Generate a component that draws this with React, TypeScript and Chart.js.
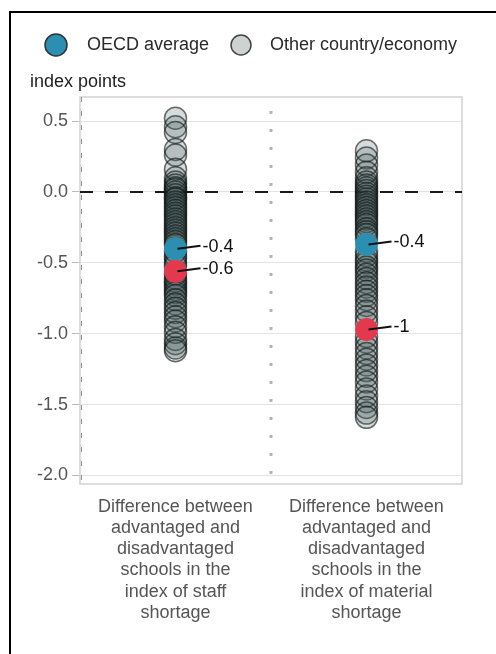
import React, { useEffect, useRef } from "react";
import { Chart, registerables } from "chart.js";

Chart.register(...registerables);

const categories: string[][] = [
  ["Difference between", "advantaged and", "disadvantaged", "schools in the", "index of staff", "shortage"],
  ["Difference between", "advantaged and", "disadvantaged", "schools in the", "index of material", "shortage"],
];

const otherStaff = [
  0.52, 0.46, 0.42, 0.3, 0.26, 0.16, 0.1, 0.07, 0.05, 0.03, 0.02, 0.0, -0.02, -0.04, -0.05, -0.07,
  -0.09, -0.11, -0.13, -0.15, -0.17, -0.19, -0.21, -0.23, -0.25, -0.27, -0.29, -0.31, -0.33, -0.35,
  -0.37, -0.42, -0.45, -0.47, -0.5, -0.52, -0.58, -0.61, -0.63, -0.65, -0.67, -0.69, -0.71, -0.73,
  -0.76, -0.79, -0.82, -0.85, -0.88, -0.91, -0.95, -0.99, -1.04, -1.07, -1.1, -1.12,
];

const otherMaterial = [
  0.29, 0.24, 0.19, 0.14, 0.1, 0.07, 0.05, 0.03, 0.01, -0.01, -0.03, -0.05, -0.07, -0.09, -0.11,
  -0.13, -0.15, -0.17, -0.19, -0.21, -0.23, -0.26, -0.28, -0.3, -0.33, -0.42, -0.45, -0.48, -0.5,
  -0.53, -0.55, -0.58, -0.61, -0.64, -0.67, -0.7, -0.73, -0.76, -0.8, -0.84, -0.88, -0.92, -1.02,
  -1.06, -1.1, -1.14, -1.18, -1.22, -1.26, -1.3, -1.34, -1.39, -1.44, -1.48, -1.52, -1.56, -1.59,
];

const oecdAverage = [-0.4, -0.37];
const highlighted = [-0.56, -0.97];

const yTicks = [-2, -1.5, -1, -0.5, 0, 0.5];
const yMin = -2.06;
const yMax = 0.67;

const legendLabels = ["OECD average", "Other country/economy"];
const yAxisTitle = "index points";

const FONT = "'Liberation Sans', Arial, sans-serif";
const BLUE = "#2a8fb0";
const RED = "#e2394f";
const GREY_FILL = "rgba(60,85,85,0.21)";
const GREY_BORDER = "rgba(15,20,20,0.6)";

const fmt = (v: number) => String(Number(v.toFixed(1)));

const decorPlugin = {
  id: "decor",
  beforeDatasetsDraw(chart: any) {
    const { ctx, chartArea: a, scales } = chart;
    ctx.save();
    ctx.strokeStyle = "#d2d2d2";
    ctx.lineWidth = 1.5;
    ctx.strokeRect(a.left, a.top, a.right - a.left, a.bottom - a.top);
    ctx.strokeStyle = "#8f8f8f";
    ctx.lineWidth = 1;
    ctx.setLineDash([5, 9]);
    ctx.beginPath();
    ctx.moveTo(a.left + 1.5, a.top);
    ctx.lineTo(a.left + 1.5, a.bottom);
    ctx.stroke();
    const xm = scales.x.getPixelForValue(0.5);
    ctx.strokeStyle = "#b4b4b4";
    ctx.lineWidth = 3;
    ctx.setLineDash([3, 15]);
    ctx.beginPath();
    ctx.moveTo(xm, a.top + 14);
    ctx.lineTo(xm, a.bottom);
    ctx.stroke();
    const y0 = scales.y.getPixelForValue(0);
    ctx.strokeStyle = "#1a1a1a";
    ctx.lineWidth = 2;
    ctx.setLineDash([13, 12]);
    ctx.beginPath();
    ctx.moveTo(a.left, y0);
    ctx.lineTo(a.right, y0);
    ctx.stroke();
    ctx.restore();
  },
  afterDatasetsDraw(chart: any) {
    const { ctx } = chart;
    ctx.save();
    chart.data.datasets.forEach((ds: any, i: number) => {
      if (!ds.showValueLabels) return;
      const meta = chart.getDatasetMeta(i);
      meta.data.forEach((pt: any, j: number) => {
        const v = ds.data[j].y;
        const cx = pt.x;
        const cy = pt.y;
        ctx.strokeStyle = "#111";
        ctx.lineWidth = 2;
        ctx.setLineDash([]);
        ctx.beginPath();
        ctx.moveTo(cx + 2, cy);
        ctx.lineTo(cx + 25, cy - 3);
        ctx.stroke();
        ctx.fillStyle = "#111";
        ctx.font = `18px ${FONT}`;
        ctx.textAlign = "left";
        ctx.textBaseline = "middle";
        ctx.fillText(fmt(v), cx + 27, cy - 2);
      });
    });
    ctx.restore();
  },
  afterDraw(chart: any) {
    const { ctx } = chart;
    ctx.save();
    const blue = chart.data.datasets.find((d: any) => d.label === legendLabels[0]);
    ctx.font = `18px ${FONT}`;
    ctx.textBaseline = "middle";
    ctx.textAlign = "left";
    ctx.beginPath();
    ctx.arc(56, 45, 11, 0, Math.PI * 2);
    ctx.fillStyle = blue.backgroundColor;
    ctx.fill();
    ctx.lineWidth = 1.5;
    ctx.strokeStyle = "#333";
    ctx.stroke();
    ctx.fillStyle = "#2a2a2a";
    ctx.fillText(legendLabels[0], 87, 45);
    ctx.beginPath();
    ctx.arc(241, 45, 10, 0, Math.PI * 2);
    ctx.fillStyle = "#cdd3d3";
    ctx.fill();
    ctx.strokeStyle = "#444";
    ctx.lineWidth = 1.5;
    ctx.stroke();
    ctx.fillStyle = "#2a2a2a";
    ctx.fillText(legendLabels[1], 270, 45);
    ctx.fillStyle = "#1e1e1e";
    ctx.fillText(yAxisTitle, 30, 82);
    ctx.restore();
  },
};

export default function App() {
  const ref = useRef<HTMLCanvasElement>(null);

  useEffect(() => {
    if (!ref.current) return;
    const toPts = (vals: number[], x: number) => vals.map((y) => ({ x, y }));
    const chart = new Chart(ref.current, {
      type: "scatter",
      data: {
        datasets: [
          {
            label: "Highlighted country",
            data: highlighted.map((y, i) => ({ x: i, y })),
            backgroundColor: RED,
            borderColor: RED,
            borderWidth: 1,
            pointRadius: 11,
            showValueLabels: true,
          } as any,
          {
            label: legendLabels[0],
            data: oecdAverage.map((y, i) => ({ x: i, y })),
            backgroundColor: BLUE,
            borderColor: BLUE,
            borderWidth: 1,
            pointRadius: 11,
            showValueLabels: true,
          } as any,
          {
            label: legendLabels[1],
            data: [...toPts(otherStaff, 0), ...toPts(otherMaterial, 1)],
            backgroundColor: GREY_FILL,
            borderColor: GREY_BORDER,
            borderWidth: 1.5,
            pointRadius: 11,
          } as any,
        ],
      },
      options: {
        animation: false,
        responsive: false,
        events: [],
        layout: { padding: { top: 97, left: 0, right: 34, bottom: 0 } },
        plugins: {
          legend: { display: false },
          tooltip: { enabled: false },
        },
        scales: {
          x: {
            type: "linear",
            min: -0.5,
            max: 1.5,
            grid: { display: false, drawTicks: false },
            border: { display: false },
            afterBuildTicks: (scale: any) => {
              scale.ticks = categories.map((_, i) => ({ value: i }));
            },
            afterFit: (scale: any) => {
              scale.height = 170;
            },
            ticks: {
              padding: 12,
              maxRotation: 0,
              autoSkip: false,
              color: "#555",
              font: { family: FONT, size: 18, lineHeight: 1.18 },
              callback: (v: any) => categories[Math.round(Number(v))] as any,
            },
          },
          y: {
            min: yMin,
            max: yMax,
            grid: { color: "#e4e4e4", lineWidth: 1, tickLength: 8, tickColor: "#bbb" },
            border: { display: false },
            afterBuildTicks: (scale: any) => {
              scale.ticks = yTicks.map((value) => ({ value }));
            },
            afterFit: (scale: any) => {
              scale.width = 80;
            },
            ticks: {
              padding: 4,
              color: "#555",
              font: { family: FONT, size: 18 },
              callback: (v: any) => Number(v).toFixed(1),
            },
          },
        },
      },
      plugins: [decorPlugin],
    });
    return () => chart.destroy();
  }, []);

  return (
    <div style={{ position: "fixed", left: 0, top: 0, width: 496, height: 654, background: "#fff", overflow: "hidden" }}>
      <div
        style={{
          position: "absolute",
          left: 9,
          top: 11,
          width: 520,
          height: 700,
          borderLeft: "2px solid #000",
          borderTop: "2px solid #000",
        }}
      />
      <canvas ref={ref} width={496} height={654} style={{ position: "absolute", left: 0, top: 0, display: "block" }} />
    </div>
  );
}
